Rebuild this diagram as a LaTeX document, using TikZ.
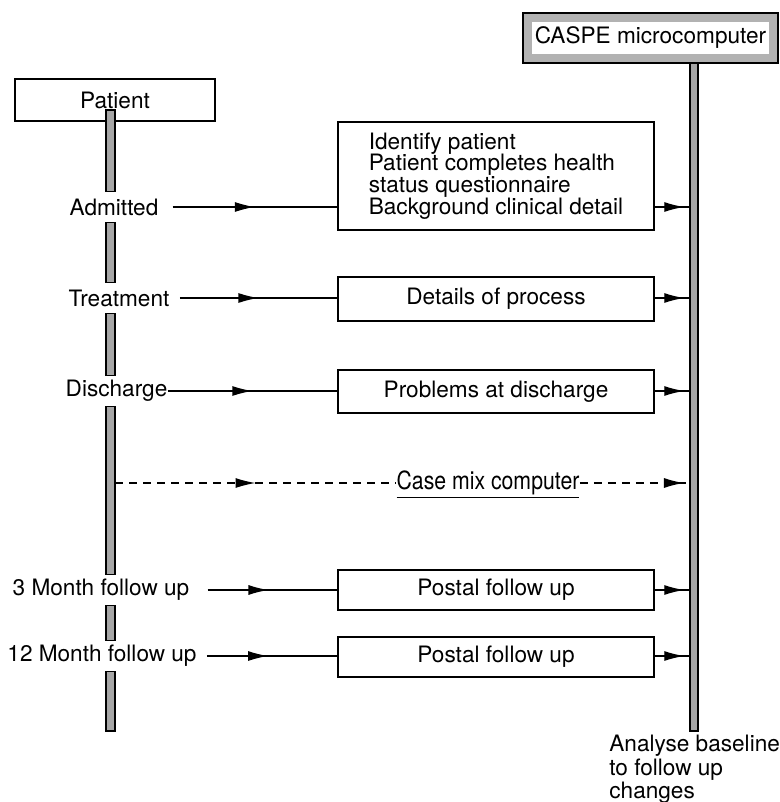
\documentclass[tikz,border=0pt]{standalone}
\usepackage{fontspec}
\setmainfont{TeX Gyre Heros}
\newfontfamily\narrowfont[FakeStretch=0.85]{TeX Gyre Heros}
\usetikzlibrary{positioning,arrows.meta,decorations.markings}
\tikzset{
  proc/.style={draw,line width=1pt,minimum width=158pt,minimum height=21pt,inner sep=2pt},
  pac/.style={draw,line width=1pt,minimum width=100pt,minimum height=21pt,inner sep=2pt},
  caspe/.style={draw,line width=1pt,fill=black!30,minimum width=127.5pt,minimum height=25pt,inner sep=2pt,
    path picture={\fill[white] ([shift={(4.5pt,4.5pt)}]path picture bounding box.south west)
      rectangle ([shift={(-4.5pt,-4.5pt)}]path picture bounding box.north east);}},
  lbl/.style={inner sep=0pt,minimum height=15pt},
  bar/.style={draw,line width=0.6pt,fill=black!35},
  sip/.style={line width=0.7pt,postaction={decorate},
    decoration={markings,mark=at position #1 with {\arrow{Latex[length=10pt,width=5pt]}}}},
  sip/.default=0.5,
}

\begin{document}
\begin{tikzpicture}[x=0.5pt,y=-0.5pt,font=\fontsize{11.3pt}{13pt}\selectfont]
\useasboundingbox (0,0) rectangle (780,802);

\node[pac] (pat) at (115,100) {Patient};
\node[caspe] (cas) at (650.5,38) {CASPE microcomputer};
\node[bar,inner sep=0pt,minimum width=4pt,minimum height=334pt] (rbar) at (694,397) {};

\node[lbl] (adm) at (114,207) {Admitted};
\node[lbl] (trt) at (119,298) {Treatment};
\node[lbl] (dis) at (116.5,391) {Discharge};
\node[lbl] (m3) at (101,590) {3 Month follow up};
\node[lbl] (m12) at (102,656) {12 Month follow up};

\coordinate (barL) at (106,0);
\coordinate (barR) at (115,0);
\coordinate (ptop) at (110,110);
\coordinate (pend) at (110,731);
\foreach \a/\b in {ptop/adm.north, adm.south/trt.north, trt.south/dis.north,
                   dis.south/m3.north, m3.south/m12.north, m12.south/pend}
  \draw[bar] (\a -| barL) rectangle (\b -| barR);

\node[proc,minimum height=54pt,align=left,font=\fontsize{11.3pt}{10.85pt}\selectfont] (b1) at (496,176)
  {Identify patient\\Patient completes health\\status questionnaire\\Background clinical detail};
\node[proc,minimum height=22pt] (b2) at (496,299) {Details of process};
\node[proc,minimum height=21.5pt] (b3) at (496,391.5) {Problems at discharge};
\node[proc,minimum height=20pt] (b4) at (496,590) {Postal follow up};
\node[proc,minimum height=20pt] (b5) at (496,657) {Postal follow up};

\draw[sip] ([xshift=7pt]adm.east) -- (adm -| b1.west);
\draw[sip] ([xshift=5pt]trt.east) -- (trt -| b2.west);
\draw[sip] (dis.east) -- (dis -| b3.west);
\draw[sip=0.47] ([xshift=9pt]m3.east) -- (m3 -| b4.west);
\draw[sip=0.47] ([xshift=5pt]m12.east) -- (m12 -| b5.west);

\foreach \r/\b in {adm/b1, trt/b2, dis/b3, m3/b4, m12/b5}
  \draw[sip=0.85] (\r -| \b.east) -- (\r -| rbar.west);

\node[inner sep=0pt,font=\narrowfont\fontsize{12.5pt}{14pt}\selectfont] (cm) at (488,485)
  {\underline{Case mix computer}};
\coordinate (cmy) at (0,483);
\draw[sip, dash pattern=on 4pt off 3pt] (cmy -| barR) -- (cmy -| cm.west);
\draw[sip=0.95, dash pattern=on 4pt off 3pt] (cmy -| cm.east) -- (cmy -| rbar.west);

\node[anchor=north west,inner sep=0pt,align=left,font=\fontsize{11.3pt}{10.4pt}\selectfont] (ana) at (609,735)
  {Analyse baseline\\to follow up\\changes};
\end{tikzpicture}
\end{document}
